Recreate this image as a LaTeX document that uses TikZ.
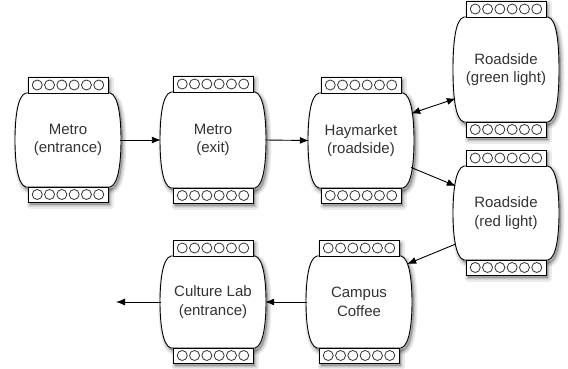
\documentclass[tikz,border=0pt]{standalone}
\usepackage{fontspec}
\setmainfont{Liberation Sans}
\usetikzlibrary{arrows.meta,calc}
\tikzset{
  lbl/.style={inner sep=0pt, minimum width=104pt, align=center,
    font=\fontsize{15}{18.5}\selectfont, text=black!80},
  strip/.style={draw=black, line width=0.9pt, fill=white, inner sep=0pt,
    minimum width=80pt},
  hole/.style={draw=black!80, line width=0.8pt, fill=white},
  body/.style={draw=black, line width=0.9pt, fill=white},
  shade/.style={black, opacity=0.08, line join=round},
  conn/.style={line width=0.9pt, -{Latex[length=9pt,width=7pt]}},
  conntwo/.style={line width=0.9pt, {Latex[length=9pt,width=7pt]}-{Latex[length=9pt,width=7pt]}},
}
\newcommand\barrelpath[3]{(#1-42,#2) -- (#1+42,#2)
  .. controls (#1+51,#2+2) and (#1+53,#2+28) .. (#1+53,{(#2+#3)/2})
  .. controls (#1+53,#3-28) and (#1+51,#3-2) .. (#1+42,#3) -- (#1-42,#3)
  .. controls (#1-51,#3-2) and (#1-53,#3-28) .. (#1-53,{(#2+#3)/2})
  .. controls (#1-53,#2+28) and (#1-51,#2+2) .. (#1-42,#2) -- cycle}
\newcommand\station[5]{% name, cx, yt, yb, text
  \pgfmathsetmacro\ym{(#3+#4)/2}
  \pgfmathsetmacro\bh{#4-#3}
  % soft shadow
  \begin{scope}[shift={(2,3)}]
    \foreach \w in {7,4.5,2}{
      \filldraw[shade, line width=\w pt] \barrelpath{#2}{#3}{#4};
      \filldraw[shade, line width=\w pt] (#2-40,#3-16) rectangle (#2+40,#3);
      \filldraw[shade, line width=\w pt] (#2-40,#4) rectangle (#2+40,#4+15);
    }
  \end{scope}
  \draw[body] \barrelpath{#2}{#3}{#4};
  \node[lbl, minimum height=\bh pt] (#1) at (#2,\ym) {#5};
  \node[strip, minimum height=16pt] (#1-top) at (#2,#3-8) {};
  \node[strip, minimum height=15pt] (#1-bot) at (#2,#4+7.5) {};
  \foreach \k in {-2.5,-1.5,-0.5,0.5,1.5,2.5}{
    \draw[hole] ($(#1-top.center)+(\k*12.3,0)$) circle (5pt);
    \draw[hole] ($(#1-bot.center)+(\k*12.3,0)$) circle (5pt);
  }
}
\begin{document}
\begin{tikzpicture}[x=1pt,y=-1pt]
\useasboundingbox (0,0) rectangle (568,369);
\fill[white] (0,0) rectangle (568,369);
\station{n1}{68}{93}{187}{Metro\\(entrance)}
\station{n2}{213}{92}{188}{Metro\\(exit)}
\station{n3}{361}{93}{188}{Haymarket\\(roadside)}
\station{n4}{506}{17}{122}{Roadside\\(green light)}
\station{n5}{506}{166}{260}{Roadside\\(red light)}
\station{n6}{359}{256}{348}{Campus\\Coffee}
\station{n7}{213}{256}{348}{Culture Lab\\(entrance)}
\draw[conn] (n1.east) -- (n2.west);
\draw[conn] (n2.east) -- (n3.west);
\draw[conntwo] ($(n3.east)+(-2,-27)$) -- ($(n4.west)+(2,29)$);
\draw[conn] ($(n3.east)+(-2,27)$) -- ($(n5.west)+(2,-27)$);
\draw[conn] ($(n5.west)+(2,31)$) -- ($(n6.east)+(-4,-38)$);
\draw[conn] (n6.west) -- (n7.east);
\coordinate (out) at (116,302);
\draw[conn] (n7.west) -- (out);
\end{tikzpicture}
\end{document}
